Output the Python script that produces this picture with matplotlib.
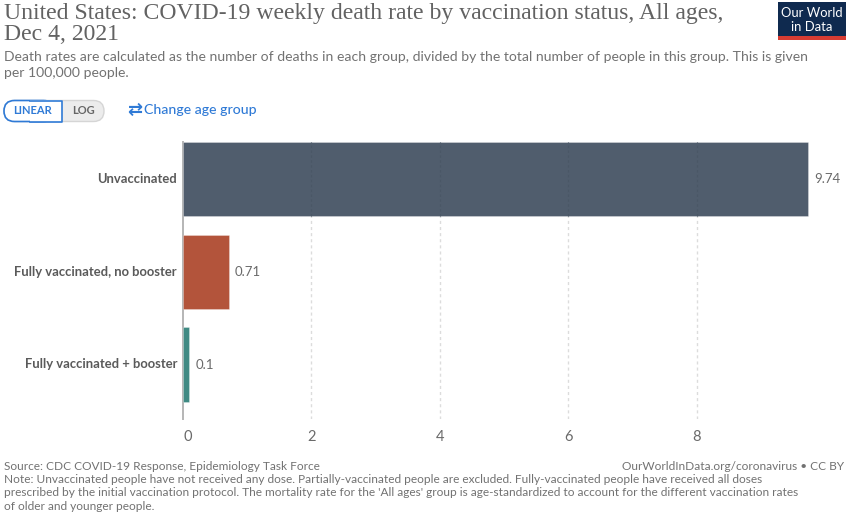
import matplotlib
matplotlib.use("Agg")
import matplotlib.pyplot as plt
from matplotlib.patches import FancyBboxPatch, Rectangle
from matplotlib.transforms import ScaledTranslation

plt.rcParams["font.family"] = ["Lato", "DejaVu Sans"]

# ── Data ──────────────────────────────────────────────────────────────────────

groups = ["Unvaccinated", "Fully vaccinated, no booster", "Fully vaccinated + booster"]
rates = [9.74, 0.71, 0.1]
rate_labels = ["9.74", "0.71", "0.1"]
bar_colors = ["#505d6d", "#b3543b", "#3f8a83"]
x_ticks = [0, 2, 4, 6, 8]

title_lines = ["United States: COVID-19 weekly death rate by vaccination status, All ages,",
               "Dec 4, 2021"]
subtitle_lines = ["Death rates are calculated as the number of deaths in each group, divided by the total number of people in this group. This is given",
                  "per 100,000 people."]
source = "Source: CDC COVID-19 Response, Epidemiology Task Force"
credit = "OurWorldInData.org/coronavirus • CC BY"
note_lines = ["Note: Unvaccinated people have not received any dose. Partially-vaccinated people are excluded. Fully-vaccinated people have received all doses",
              "prescribed by the initial vaccination protocol. The mortality rate for the 'All ages' group is age-standardized to account for the different vaccination rates",
              "of older and younger people."]

W, H = 848, 516
GREY = "#727272"
BLUE = "#2f7ad6"
BAR_H = 0.804

fig = plt.figure(figsize=(W / 100, H / 100), dpi=100, facecolor="white")

# ── Bar chart ─────────────────────────────────────────────────────────────────

# axes box in pixels: x 183-840, y 142-419
ax = fig.add_axes([183 / W, 1 - 419 / H, (840 - 183) / W, (419 - 142) / H])
positions = list(range(len(groups)))
ax.vlines(x_ticks[1:], 2.588, -0.402, color="#dcdcdc", linewidth=1.0,
          linestyle=(0, (2.2, 2.2)), zorder=1)
ax.barh(positions, rates, height=BAR_H, color=bar_colors, edgecolor="#ffffff55",
        linewidth=0.6, zorder=2)
# gridlines show faintly through the bars
for pos, val in zip(positions, rates):
    inside = [t for t in x_ticks[1:] if t < val]
    if inside:
        ax.vlines(inside, pos + BAR_H / 2, pos - BAR_H / 2, color="#4a5766", linewidth=0.8,
                  linestyle=(0, (2.2, 2.2)), zorder=3)

ax.set_xlim(0, (840 - 183) / 64.2)
ax.set_ylim(2.588, -0.402)
ax.set_yticks(positions)
ax.set_yticklabels(groups, fontsize=9.4, fontweight="bold", color="#5a5a5a")
ax.set_xticks(x_ticks)
ax.set_xticklabels([str(t) for t in x_ticks], fontsize=10.5, color="#6a6a6a")
ax.get_xticklabels()[0].set_ha("left")
ax.tick_params(axis="y", length=0, pad=4.3)
ax.tick_params(axis="x", length=0, pad=8)
# nudge the group names up a pixel
for label in ax.get_yticklabels():
    label.set_transform(label.get_transform() + ScaledTranslation(0, 1.2 / 100, fig.dpi_scale_trans))
for side in ["top", "right", "bottom"]:
    ax.spines[side].set_visible(False)
ax.spines["left"].set_color("#b5b5b5")
ax.spines["left"].set_linewidth(1.4)
ax.spines["left"].set_zorder(1.5)
for pos, val, lab in zip(positions, rates, rate_labels):
    ax.text(val + 0.09, pos, lab, va="center", ha="left", fontsize=9.5, color="#6a6a6a")

# ── Header, controls and footer, placed in pixel coordinates ──────────────────

top = fig.add_axes([0, 0, 1, 1], facecolor="none")
top.set_xlim(0, W)
top.set_ylim(H, 0)
top.axis("off")

for y, line in zip([13, 35], title_lines):
    top.text(4, y, line, fontsize=17.1, family="Liberation Serif", color="#626262", va="center")
for y, line in zip([57, 73], subtitle_lines):
    top.text(4, y, line, fontsize=10.05, color=GREY, va="center")

# LINEAR / LOG toggle
top.add_patch(FancyBboxPatch((4, 100.5), 100, 21, boxstyle="round,pad=0,rounding_size=10.5",
                             fc="#ececec", ec="#d5d5d5", lw=1))
top.add_patch(FancyBboxPatch((4, 100.5), 50, 21, boxstyle="round,pad=0,rounding_size=10.5",
                             fc="white", ec=BLUE, lw=1.2, zorder=3))
top.add_patch(Rectangle((30, 100), 32.3, 22, fc="white", ec="none", zorder=3))
top.plot([30, 62.3, 62.3, 30], [100.5, 100.5, 121.5, 121.5], color=BLUE, lw=1.2, zorder=4)
top.text(33, 111, "LINEAR", fontsize=8, fontweight="bold", color=BLUE, ha="center", va="center", zorder=5)
top.text(83, 111, "LOG", fontsize=8, fontweight="bold", color="#666666", ha="center", va="center")
top.text(135, 109.5, "⇄", fontsize=13, fontweight="bold", color=BLUE, ha="center", va="center", family="DejaVu Sans")
top.text(144, 110.5, "Change age group", fontsize=10.2, fontweight="medium", color=BLUE, va="center")

# logo
top.add_patch(Rectangle((778, 2), 67.5, 34.5, fc="#0f2a4f", ec="none"))
top.add_patch(Rectangle((778, 36), 67.5, 4, fc="#d73c32", ec="none"))
top.text(811.7, 13, "Our World", fontsize=9.4, color="white", ha="center", va="center")
top.text(811.7, 27, "in Data", fontsize=9.4, color="white", ha="center", va="center")

# footer
top.text(4, 466, source, fontsize=8.55, color=GREY, va="center")
top.text(844, 466, credit, fontsize=8.6, color=GREY, va="center", ha="right")
for y, line in zip([479.5, 493, 506.5], note_lines):
    top.text(4, y, line, fontsize=8.58, color=GREY, va="center")

fig.savefig("out.png", dpi=100)
